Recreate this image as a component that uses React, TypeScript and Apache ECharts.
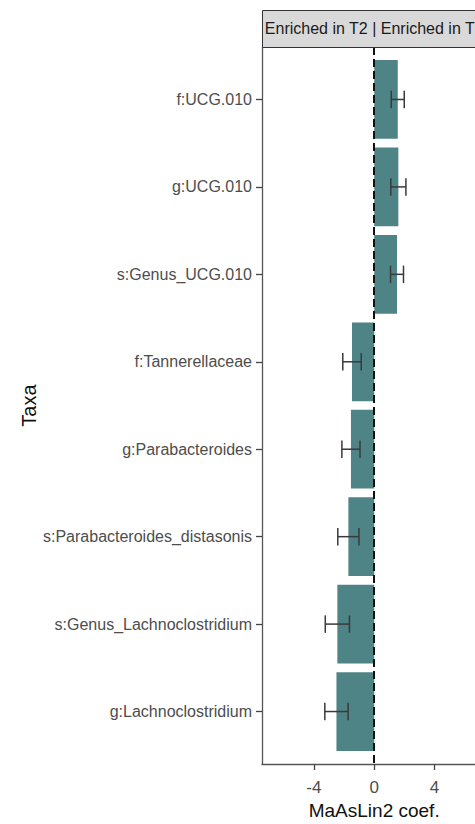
import React, { useEffect, useRef } from "react";
import * as echarts from "echarts";

const taxa = [
  "f:UCG.010",
  "g:UCG.010",
  "s:Genus_UCG.010",
  "f:Tannerellaceae",
  "g:Parabacteroides",
  "s:Parabacteroides_distasonis",
  "s:Genus_Lachnoclostridium",
  "g:Lachnoclostridium",
];
const coef = [1.56, 1.6, 1.51, -1.47, -1.54, -1.71, -2.44, -2.5];
const stderr = [0.43, 0.5, 0.43, 0.61, 0.6, 0.7, 0.8, 0.77];
const xTicks = [-4, 0, 4];
const stripText = "Enriched in T2 | Enriched in T1";

const FONT = "'Liberation Sans', Arial, sans-serif";

export default function App() {
  const ref = useRef<HTMLDivElement>(null);
  useEffect(() => {
    if (!ref.current) return;
    const chart = echarts.init(ref.current, null, { renderer: "svg" });
    const data = taxa.map((_, i) => [coef[i], i, coef[i] - stderr[i], coef[i] + stderr[i]]);
    const gridLeft = 262;
    const gridTop = 47;
    const gridW = 224.4;
    const gridH = 717;
    chart.setOption({
      animation: false,
      backgroundColor: "#ffffff",
      grid: {
        left: gridLeft,
        top: gridTop,
        width: gridW,
        height: gridH,
        containLabel: false,
        outerBoundsMode: "none",
      },
      xAxis: {
        type: "value",
        min: -7.43,
        max: 7.43,
        name: "MaAsLin2 coef.",
        nameLocation: "middle",
        nameGap: 35,
        nameTextStyle: { fontFamily: FONT, fontSize: 19, color: "#111" },
        axisLine: { show: true, onZero: false, lineStyle: { color: "#555", width: 1.3 } },
        axisTick: { show: true, length: 6, customValues: xTicks, lineStyle: { color: "#444", width: 1.3 } },
        axisLabel: {
          customValues: xTicks,
          fontFamily: FONT,
          fontSize: 17,
          color: "#4d4d4d",
          margin: 15,
          formatter: (v: number) => String(v),
        },
        splitLine: { show: false },
      },
      yAxis: {
        type: "value",
        min: -0.6,
        max: 7.6,
        inverse: true,
        name: "Taxa",
        nameLocation: "middle",
        nameRotate: 90,
        nameGap: 220,
        nameTextStyle: { fontFamily: FONT, fontSize: 20, color: "#111" },
        axisLine: { show: true, onZero: false, lineStyle: { color: "#555", width: 1.3 } },
        axisTick: {
          show: true,
          length: 6,
          customValues: taxa.map((_, i) => i),
          lineStyle: { color: "#444", width: 1.3 },
        },
        axisLabel: {
          customValues: taxa.map((_, i) => i),
          fontFamily: FONT,
          fontSize: 16,
          color: "#4d4d4d",
          margin: 10,
          formatter: (v: number) => taxa[Math.round(v)] ?? "",
        },
        splitLine: { show: false },
      },
      graphic: [
        {
          type: "rect",
          left: gridLeft,
          top: 10,
          shape: { width: gridW, height: gridTop - 10 },
          style: { fill: "#d9d9d9", stroke: "#333", lineWidth: 1 },
          z: 10,
        },
        {
          type: "text",
          x: gridLeft + gridW / 2,
          y: 28.5,
          style: {
            text: stripText,
            fontFamily: FONT,
            fontSize: 16,
            fill: "#1a1a1a",
            align: "center",
            verticalAlign: "middle",
          },
          z: 11,
        },
      ],
      series: [
        {
          type: "custom",
          data,
          encode: { x: [0, 2, 3], y: 1 },
          renderItem: (params: any, api: any) => {
            const c = api.value(0);
            const idx = api.value(1);
            const lo = api.value(2);
            const hi = api.value(3);
            const p0 = api.coord([0, idx]);
            const p1 = api.coord([c, idx]);
            const unit = Math.abs(api.size([0, 1])[1]);
            const bh = unit * 0.9;
            const cap = unit * 0.1;
            const pl = api.coord([lo, idx]);
            const ph = api.coord([hi, idx]);
            const ls = { stroke: "#3a3a3a", lineWidth: 1.5 };
            return {
              type: "group",
              children: [
                {
                  type: "rect",
                  shape: {
                    x: Math.min(p0[0], p1[0]),
                    y: p0[1] - bh / 2,
                    width: Math.abs(p1[0] - p0[0]),
                    height: bh,
                  },
                  style: { fill: "#4f8486" },
                },
                { type: "line", shape: { x1: pl[0], y1: pl[1], x2: ph[0], y2: ph[1] }, style: ls },
                { type: "line", shape: { x1: pl[0], y1: pl[1] - cap, x2: pl[0], y2: pl[1] + cap }, style: ls },
                { type: "line", shape: { x1: ph[0], y1: ph[1] - cap, x2: ph[0], y2: ph[1] + cap }, style: ls },
              ],
            };
          },
          markLine: {
            silent: true,
            symbol: ["none", "none"],
            label: { show: false },
            lineStyle: { color: "#111", width: 2, type: [8, 4] },
            data: [{ xAxis: 0 }],
          },
        },
      ],
    });
    return () => chart.dispose();
  }, []);
  return (
    <div
      ref={ref}
      style={{ position: "fixed", left: 0, top: 0, width: 475, height: 824, background: "#fff" }}
    />
  );
}
